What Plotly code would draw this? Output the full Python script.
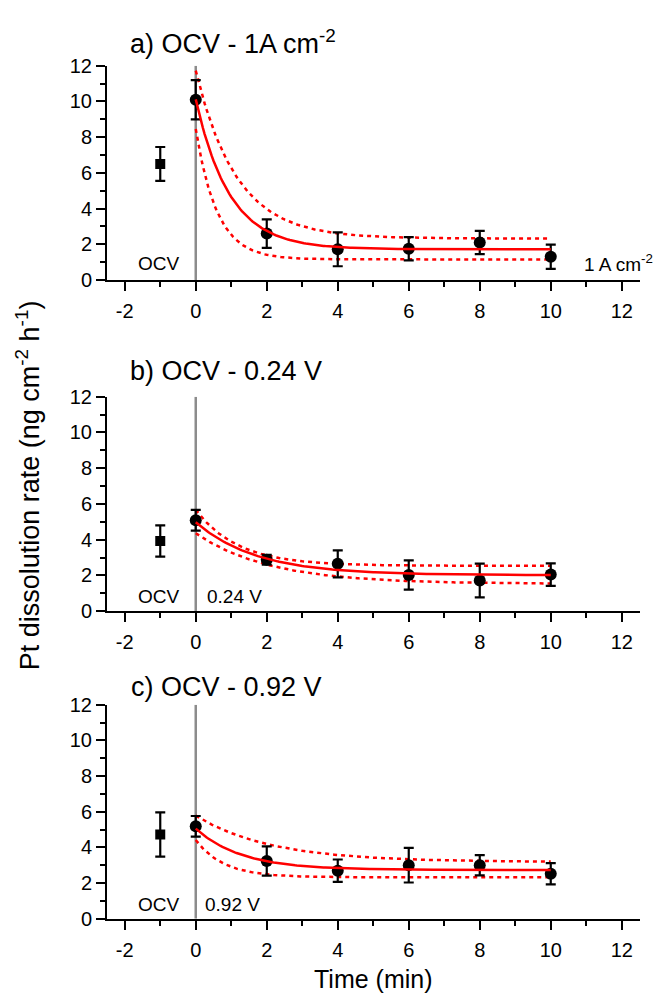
import numpy as np
import plotly.graph_objects as go

# Sampling times (min); the OCV reference point is plotted at t = -1
t_ocv = [-1]
t_meas = [0, 2, 4, 6, 8, 10]

# a) OCV -> 1 A cm-2
ocv_a = [6.5]
ocv_err_a = [0.95]
rate_a = [10.1, 2.6, 1.72, 1.75, 2.1, 1.3]
err_a = [1.1, 0.8, 0.95, 0.65, 0.65, 0.68]

# b) OCV -> 0.24 V
ocv_b = [3.93]
ocv_err_b = [0.87]
rate_b = [5.09, 2.88, 2.65, 2.03, 1.72, 2.05]
err_b = [0.58, 0.28, 0.75, 0.82, 0.94, 0.63]

# c) OCV -> 0.92 V
ocv_c = [4.72]
ocv_err_c = [1.24]
rate_c = [5.18, 3.24, 2.69, 3.0, 3.0, 2.52]
err_c = [0.58, 0.82, 0.63, 0.97, 0.57, 0.6]

# Exponential decay fits y = y0 + A*exp(-t/tau): [y0, A, tau]
fit_a = [1.72, 8.4, 0.95]
upper_a = [2.32, 9.41, 1.15]
lower_a = [1.15, 7.31, 0.6]

fit_b = [2.02, 2.96, 1.71]
upper_b = [2.54, 3.13, 1.19]
lower_b = [1.53, 2.83, 2.08]

fit_c = [2.73, 2.32, 1.29]
upper_c = [3.18, 2.6, 2.11]
lower_c = [2.32, 2.09, 0.79]

# Axis ticks
x_ticks = [-2, 0, 2, 4, 6, 8, 10, 12]
x_tick_text = ["-2", "0", "2", "4", "6", "8", "10", "12"]
y_ticks = [0, 2, 4, 6, 8, 10, 12]

titles = ["a) OCV - 1A cm<sup>-2</sup>", "b) OCV - 0.24 V", "c) OCV - 0.92 V"]
step_labels = ["1 A cm<sup>-2</sup>", "0.24 V", "0.92 V"]

W, H = 657, 1004
FONT = "Liberation Sans, Arial, sans-serif"
RED = "#ff0000"

t_fit = np.linspace(0, 10, 201)


def decay(p):
    y0, a, tau = p
    return y0 + a * np.exp(-t_fit / tau)


panels = [
    (ocv_a, ocv_err_a, rate_a, err_a, fit_a, upper_a, lower_a),
    (ocv_b, ocv_err_b, rate_b, err_b, fit_b, upper_b, lower_b),
    (ocv_c, ocv_err_c, rate_c, err_c, fit_c, upper_c, lower_c),
]

# panel rectangles in pixels: (top, bottom)
x_left, x_right = 107.0, 639.5
rows_px = [(56.0, 275.0), (394.3, 613.7), (709.3, 928.0)]
label_y = [0.93, 0.84, 0.8]
label_x = [10.89, 0.27, 0.2]
title_y = [32, 368, 690.7]
title_x = [127.5, 127.5, 129]

fig = go.Figure()
layout = {}
annotations = []
shapes = []

for i, (oc, oce, r, re_, fp, up, lo) in enumerate(panels):
    n = "" if i == 0 else str(i + 1)
    xa, ya = "x" + n, "y" + n
    top, bot = rows_px[i]

    # confidence band of the fit
    fig.add_trace(go.Scatter(x=t_fit, y=decay(up), mode="lines", xaxis=xa, yaxis=ya,
                             line=dict(color=RED, width=2.5, dash="4px,4px"), hoverinfo="skip"))
    fig.add_trace(go.Scatter(x=t_fit, y=decay(lo), mode="lines", xaxis=xa, yaxis=ya,
                             line=dict(color=RED, width=2.5, dash="4px,4px"), hoverinfo="skip"))

    # OCV reference point
    fig.add_trace(go.Scatter(x=t_ocv, y=oc, mode="markers", xaxis=xa, yaxis=ya,
                             marker=dict(symbol="square", size=10, color="black"),
                             error_y=dict(type="data", array=oce, color="black", thickness=2.2, width=5)))
    # measured points after the step
    fig.add_trace(go.Scatter(x=t_meas, y=r, mode="markers", xaxis=xa, yaxis=ya,
                             marker=dict(symbol="circle", size=12, color="black"),
                             error_y=dict(type="data", array=re_, color="black", thickness=2.2, width=5)))
    # fitted decay
    fig.add_trace(go.Scatter(x=t_fit, y=decay(fp), mode="lines", xaxis=xa, yaxis=ya,
                             line=dict(color=RED, width=2.5), hoverinfo="skip"))

    common = dict(showline=True, linecolor="black", linewidth=2, mirror=False,
                  ticks="outside", ticklen=9, tickwidth=2, tickcolor="black",
                  showgrid=False, zeroline=False,
                  tickfont=dict(family=FONT, size=20, color="black"))
    layout["xaxis" + n] = dict(common, range=[-2.5, 12.5], tickmode="array",
                               tickvals=x_ticks, ticktext=x_tick_text, ticklabelstandoff=3,
                               domain=[x_left / W, x_right / W], anchor=ya,
                               minor=dict(dtick=1, tick0=0, ticks="outside", ticklen=5,
                                          tickwidth=2, tickcolor="black"))
    layout["yaxis" + n] = dict(common, range=[0, 12], tickmode="array",
                               tickvals=y_ticks, ticktext=[str(v) for v in y_ticks],
                               domain=[1 - bot / H, 1 - top / H], anchor=xa,
                               minor=dict(dtick=1, tick0=0, ticks="outside", ticklen=5,
                                          tickwidth=2, tickcolor="black"))

    # step marker at t = 0
    shapes.append(dict(type="line", xref=xa, yref=ya, x0=0, x1=0, y0=0, y1=12,
                       line=dict(color="#8c8c8c", width=2.5), layer="below"))

    annotations.append(dict(x=-1.04, y=label_y[i], xref=xa, yref=ya, text="OCV",
                            showarrow=False, xanchor="center", yanchor="middle",
                            font=dict(family=FONT, size=19, color="black")))
    annotations.append(dict(x=label_x[i], y=label_y[i], xref=xa, yref=ya, text=step_labels[i],
                            showarrow=False, xanchor="left", yanchor="middle",
                            font=dict(family=FONT, size=19, color="black")))
    annotations.append(dict(x=title_x[i] / W, y=1 - title_y[i] / H, xref="paper", yref="paper",
                            text=titles[i], showarrow=False, xanchor="left", yanchor="middle",
                            font=dict(family=FONT, size=27, color="black")))

annotations.append(dict(x=28 / W, y=1 - 485 / H, xref="paper", yref="paper",
                        text="Pt dissolution rate (ng cm<sup>-2</sup> h<sup>-1</sup>)",
                        textangle=-90, showarrow=False, xanchor="center", yanchor="middle",
                        font=dict(family=FONT, size=27, color="black")))
annotations.append(dict(x=373 / W, y=0, xref="paper", yref="paper", yshift=-2,
                        text="Time (min)", showarrow=False, xanchor="center", yanchor="bottom",
                        font=dict(family=FONT, size=25, color="black")))

fig.update_layout(width=W, height=H, margin=dict(l=0, r=0, t=0, b=0),
                  paper_bgcolor="white", plot_bgcolor="white", showlegend=False,
                  annotations=annotations, shapes=shapes, **layout)

fig.write_html("out.html")
